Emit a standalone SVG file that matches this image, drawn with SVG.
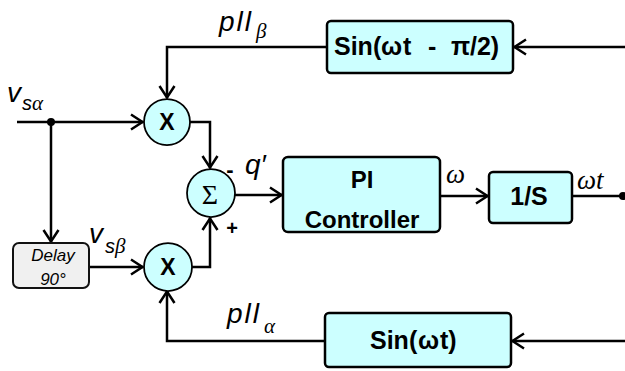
<svg xmlns="http://www.w3.org/2000/svg" width="625" height="371" viewBox="0 0 625 371">
<style>
.box{fill:#ccffff;stroke:#000;stroke-width:2.5}
.delay{fill:#f0f0f0;stroke:#111;stroke-width:2}
.circ{fill:#ccffff;stroke:#000;stroke-width:1.75}
.ln{fill:none;stroke:#000;stroke-width:2.5;stroke-linejoin:miter}
.arr{marker-end:url(#ah)}
.bt{font-family:"Liberation Sans",Arial,sans-serif;font-weight:bold;font-size:25px;fill:#000}
.lab{font-family:"Liberation Sans",Arial,sans-serif;font-style:italic;font-size:28px;fill:#000}
.sub{font-family:"Liberation Sans",Arial,sans-serif;font-style:italic;font-size:20px;fill:#000}
.gr{font-family:"Liberation Serif","Times New Roman",serif;font-style:italic;font-size:21px;fill:#000}
.om{font-family:"Liberation Serif","Times New Roman",serif;font-style:italic;font-size:27px;fill:#000}
.x{font-family:"Liberation Sans",Arial,sans-serif;font-weight:bold;font-size:23px;fill:#000;text-anchor:middle}
</style>
<defs>
<marker id="ah" viewBox="0 0 14 18" refX="13" refY="9" markerWidth="14" markerHeight="18" markerUnits="userSpaceOnUse" orient="auto">
<path d="M1,1.5 L12.5,9 L1,16.5" fill="none" stroke="#000" stroke-width="2.5"/>
</marker>
</defs>

<g id="connectors">
<path class="ln arr" d="M625,47 H514"/>
<path class="ln arr" d="M327,47 H167 V98"/>
<path class="ln arr" d="M17,122 H143"/>
<path class="ln arr" d="M51,122 V242"/>
<path class="ln arr" d="M89,267 H143"/>
<path class="ln arr" d="M190,122 H210 V168"/>
<path class="ln arr" d="M191,267 H210 V218"/>
<path class="ln arr" d="M235,195 H282"/>
<path class="ln arr" d="M440,196 H488"/>
<path class="ln" d="M572,196 H623"/>
<path class="ln arr" d="M625,341 H512"/>
<path class="ln arr" d="M325,341 H167 V291"/>
<circle cx="51" cy="122" r="4" fill="#000"/>
<circle cx="623" cy="196" r="4" fill="#000"/>
</g>

<g id="sin_shift">
<rect class="box" x="327" y="21" width="186" height="52" rx="4"/>
<text class="bt" y="55"><tspan x="334">Sin(</tspan><tspan x="381">ω</tspan><tspan x="403">t</tspan><tspan x="428">-</tspan><tspan x="451">π</tspan><tspan x="470">/2)</tspan></text>
</g>

<g id="sin">
<rect class="box" x="325" y="313" width="186" height="54" rx="4"/>
<text class="bt" y="349"><tspan x="370">Sin(</tspan><tspan x="418">ω</tspan><tspan x="440">t)</tspan></text>
</g>

<g id="pi">
<rect class="box" x="283" y="157" width="157" height="75" rx="5"/>
<text class="bt" x="362" y="188" text-anchor="middle" style="font-size:24px">PI</text>
<text class="bt" x="362" y="228" text-anchor="middle" style="font-size:24px">Controller</text>
</g>

<g id="integrator">
<rect class="box" x="489" y="172" width="83" height="51" rx="4"/>
<text class="bt" x="529" y="205" text-anchor="middle">1/S</text>
</g>

<g id="delay">
<rect class="delay" x="13" y="243" width="76" height="45" rx="6"/>
<text x="53" y="261" text-anchor="middle" style="font-family:'Liberation Sans',Arial,sans-serif;font-style:italic;font-size:17px">Delay</text>
<text x="53" y="285" text-anchor="middle" style="font-family:'Liberation Sans',Arial,sans-serif;font-style:italic;font-size:17px">90°</text>
</g>

<g id="mult_top">
<circle class="circ" cx="167" cy="122" r="23"/>
<text class="x" x="167" y="130">X</text>
</g>

<g id="mult_bot">
<circle class="circ" cx="168" cy="267" r="24"/>
<text class="x" x="168" y="275">X</text>
</g>

<g id="sum">
<circle class="circ" cx="211" cy="193" r="24"/>
<text x="210" y="204" text-anchor="middle" style="font-family:'Liberation Serif','Times New Roman',serif;font-size:28px">Σ</text>
<text x="230" y="177" text-anchor="middle" style="font-family:'Liberation Sans',Arial,sans-serif;font-weight:bold;font-size:22px">-</text>
<text x="232" y="235" text-anchor="middle" style="font-family:'Liberation Sans',Arial,sans-serif;font-weight:bold;font-size:20px">+</text>
</g>

<g id="labels">
<text class="lab" x="219" y="31" textLength="32" lengthAdjust="spacing">pll</text>
<text class="gr" x="256" y="38">β</text>
<text class="lab" x="227" y="323" textLength="32" lengthAdjust="spacing">pll</text>
<text class="gr" x="264" y="333">α</text>
<text class="lab" x="7" y="102">v</text>
<text class="sub" x="22" y="110">s</text>
<text class="gr" x="32" y="110">α</text>
<text class="lab" x="89" y="243">v</text>
<text class="sub" x="105" y="253">s</text>
<text class="gr" x="115" y="253">β</text>
<text class="lab" x="245" y="174">q′</text>
<text class="om" x="446" y="183">ω</text>
<text class="om" x="577" y="189">ωt</text>
</g>
</svg>
